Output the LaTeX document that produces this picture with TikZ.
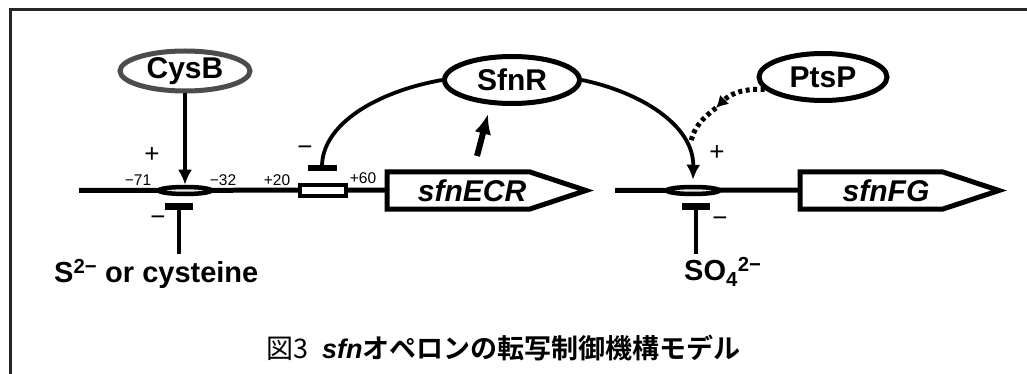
\documentclass[tikz,border=0pt]{standalone}
\usepackage{fontspec}
\setmainfont{Liberation Sans}
\newfontfamily\jpfont{Noto Sans CJK JP}[BoldFont={* Bold}]
\usetikzlibrary{shapes.geometric,arrows.meta,calc}
\begin{document}
\begin{tikzpicture}[x=1pt,y=-1pt,
  prot/.style={draw,ellipse,line width=5pt,inner sep=0pt,
    font=\fontsize{30}{30}\selectfont\bfseries},
  opell/.style={draw,ellipse,line width=4.5pt,fill=black!8,
    minimum width=52pt,minimum height=7pt,inner sep=0pt},
  dna/.style={line width=5pt},
  genebox/.style={line width=5pt,line join=miter},
  genetext/.style={font=\fontsize{30}{30}\selectfont\bfseries\itshape,inner sep=0pt},
  reg/.style={line width=3.8pt},
  act/.style={line width=3.8pt,-{Latex[length=15pt,width=14pt]}},
  inhib/.style={line width=4pt,-{Bar[width=28pt,line width=7pt]}},
  poslbl/.style={font=\fontsize{15.5}{15.5}\selectfont,inner sep=0pt},
  signlbl/.style={font=\fontsize{26}{26}\selectfont,inner sep=0pt},
  chem/.style={font=\fontsize{29}{29}\selectfont\bfseries,inner sep=0pt}]
\useasboundingbox (0,0) rectangle (1027,374);
% frame (partly cut off)
\draw[line width=3pt,draw=black!85] (10,374) -- (10,10) -- (1027,10);

% proteins
\node[prot,draw=black!70,minimum width=130pt,minimum height=40pt] (cysb) at (185,71) {CysB};
\node[prot,minimum width=135pt,minimum height=47pt] (sfnr) at (512,80) {SfnR};
\node[prot,minimum width=128pt,minimum height=47pt] (ptsp) at (823,77) {PtsP};

% gene boxes
\coordinate (ecrw) at (387,190);
\coordinate (fgw) at (800,190);
\draw[genebox] (387,172) -- (530,172) -- (586,190.5) -- (530,209) -- (387,209) -- cycle;
\draw[genebox] (800,172) -- (943,172) -- (999,190.5) -- (943,209) -- (800,209) -- cycle;
\node[genetext] (ecr) at (472,191) {sfnECR};
\node[genetext] (fg) at (886,191) {sfnFG};

% DNA lines
\coordinate (l1s) at (79,190.5);
\coordinate (l2s) at (615,190.5);
\draw[dna] (l1s) -- (ecrw);
\draw[dna] (l2s) -- (fgw);

% operators
\node[opell] (op1) at (185,190.5) {};
\node[opell] (op2) at (693,190.5) {};
\node[draw,line width=4pt,fill=white,minimum width=46pt,minimum height=11pt,inner sep=0pt] (box) at (323,190.5) {};

% position labels
\node[poslbl] (p71) at (138,180) {−71};
\node[poslbl] (p32) at (223,180) {−32};
\node[poslbl] (p20) at (277,180) {+20};
\node[poslbl] (p60) at (363,178) {+60};

% effectors
\node[chem,anchor=west] (s2) at (54,274) {S\textsuperscript{2−} or cysteine};
\node[chem,anchor=west] (so4) at (684,272) {SO\textsubscript{4}\textsuperscript{2−}};
\coordinate (st1) at (179,254);
\coordinate (st2) at (696,254);
\draw[inhib] (st1) -- (179,203);
\draw[inhib] (st2) -- (696,203);

% regulation
\draw[act] (cysb.south) -- (op1.north);
\draw[reg,-{Bar[width=29pt,line width=6pt]}] (sfnr.west) .. controls (375,92) and (322,125) .. (322,171);
\draw[act] (sfnr.east) .. controls (640,92) and (694,125) .. ($(op2.north)+(0,-5)$);
\coordinate (pa) at (477,156);
\coordinate (pb) at (488,114);
\draw[line width=6pt,-{Latex[length=20pt,width=17pt]}] (pa) -- (pb);
\coordinate (ptmid) at (716,108);
\coordinate (ptend) at (691,142);
\draw[line width=5pt,dash pattern=on 4pt off 3.5pt,-{Latex[length=12pt,width=13pt]}] (ptsp.192) .. controls (740,88) and (728,96) .. (ptmid);
\draw[line width=5pt,dash pattern=on 4pt off 3.5pt] (ptmid) .. controls (700,120) and (693,130) .. (ptend);

% signs
\node[signlbl] (s1) at (152,155) {+};
\node[signlbl] (s2m) at (305,151) {−};
\node[signlbl] (s3) at (717,153) {+};
\node[signlbl] (s4) at (158,221) {−};
\node[signlbl] (s5) at (720,222) {−};

% caption
\node[anchor=west,inner sep=0pt,font=\fontsize{27}{27}\selectfont] (cap) at (266,348)
  {\jpfont 図3\hspace{14pt}{\bfseries\itshape\rmfamily sfn}{\bfseries オペロンの転写制御機構モデル}};
\end{tikzpicture}
\end{document}
